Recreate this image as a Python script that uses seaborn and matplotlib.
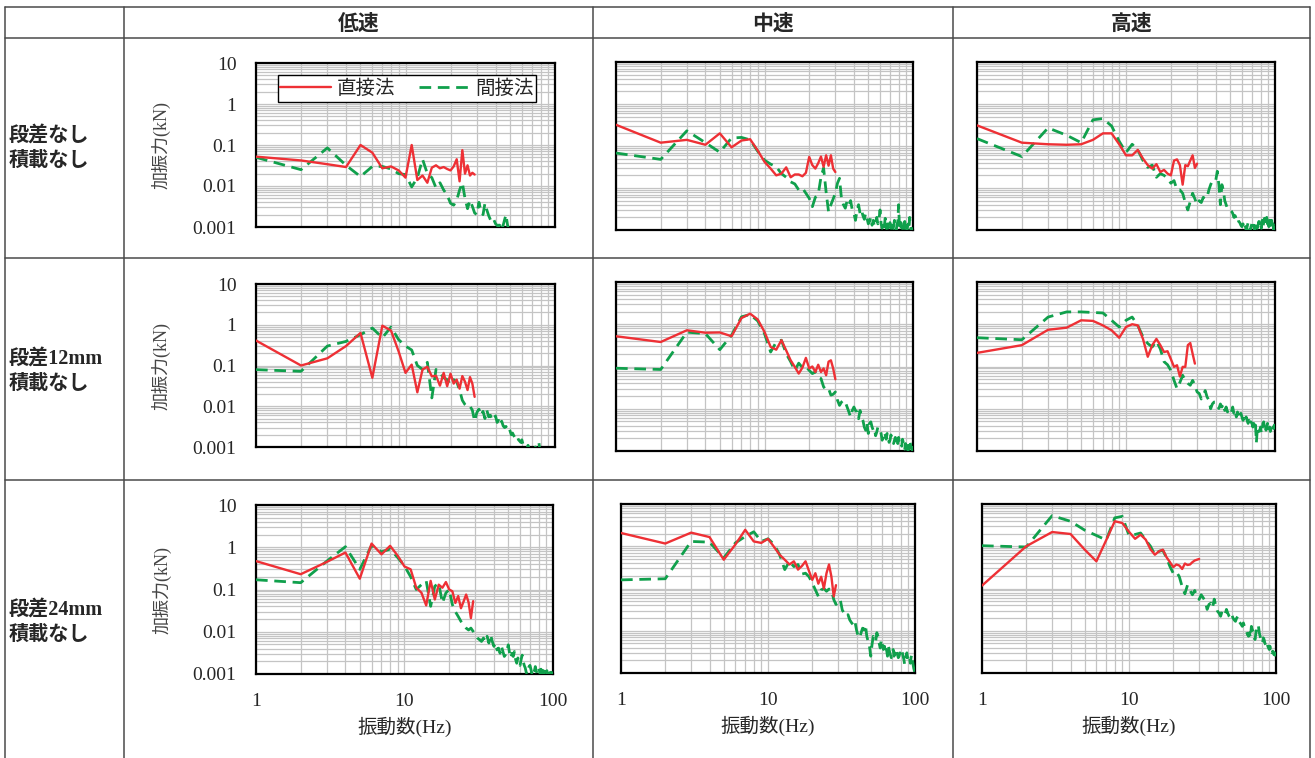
import numpy as np
import pandas as pd
import matplotlib
matplotlib.use("Agg")
import matplotlib.pyplot as plt
from matplotlib.lines import Line2D
from matplotlib.ticker import LogLocator, NullFormatter, FixedLocator, FixedFormatter
import seaborn as sns

# ---------------------------------------------------------------- data
speeds = ["低速", "中速", "高速"]
conditions = ["段差なし\n積載なし", "段差12mm\n積載なし", "段差24mm\n積載なし"]
method_labels = ["直接法", "間接法"]
x_tick_labels = ["1", "10", "100"]
y_tick_labels = ["0.001", "0.01", "0.1", "1", "10"]

# force spectra (kN) sampled every 1 Hz starting at 1 Hz
# --- 段差なし
direct_flat_low = [0.052, 0.042, 0.034, 0.029, 0.10, 0.065, 0.027, 0.030, 0.024, 0.016,
                   0.10, 0.014, 0.018, 0.012, 0.028, 0.032, 0.027, 0.029, 0.026, 0.024,
                   0.030, 0.045, 0.013, 0.075, 0.020, 0.032, 0.018, 0.021, 0.019]
indirect_flat_low = [0.050, 0.025, 0.085, 0.032, 0.017, 0.030, 0.030, 0.026, 0.020, 0.019,
                     0.0095, 0.016, 0.045, 0.020, 0.016, 0.009, 0.012, 0.008, 0.006, 0.0038,
                     0.0034, 0.0045, 0.008, 0.012, 0.005, 0.0028, 0.0045, 0.0032, 0.0022, 0.0020,
                     0.0040, 0.0024, 0.0020, 0.0038, 0.0026, 0.0019, 0.0015, 0.0013, 0.0015, 0.0012,
                     0.0011, 0.0010, 0.0012, 0.0009, 0.0011, 0.0015, 0.0020, 0.0012, 0.0008, 0.0006]

direct_flat_mid = [0.32, 0.12, 0.14, 0.107, 0.20, 0.093, 0.135, 0.145, 0.078, 0.042,
                   0.029, 0.020, 0.022, 0.031, 0.018, 0.021, 0.021, 0.019, 0.023, 0.055,
                   0.035, 0.029, 0.039, 0.056, 0.032, 0.060, 0.034, 0.060, 0.029, 0.024]
indirect_flat_mid = [0.068, 0.048, 0.23, 0.12, 0.071, 0.155, 0.16, 0.14, 0.075, 0.046,
                     0.037, 0.032, 0.022, 0.018, 0.014, 0.0125, 0.009, 0.010, 0.0075, 0.0057,
                     0.0036, 0.0060, 0.0070, 0.018, 0.030, 0.008, 0.0027, 0.0040, 0.0055, 0.0075,
                     0.013, 0.017, 0.0055, 0.0040, 0.0033, 0.0050, 0.0040, 0.0050, 0.0030, 0.0025,
                     0.0017, 0.0030, 0.0040, 0.0025, 0.0030, 0.0022, 0.0018, 0.0025, 0.0019, 0.0014,
                     0.0016, 0.0020, 0.0013, 0.0017, 0.0012, 0.0015, 0.0020, 0.0014, 0.0018, 0.0030,
                     0.0014, 0.0011, 0.0016, 0.0012, 0.0019, 0.0011, 0.0014, 0.0010, 0.0013, 0.0015,
                     0.0011, 0.0014, 0.0010, 0.0012, 0.0017, 0.0012, 0.0010, 0.0013, 0.0016, 0.0040,
                     0.0012, 0.0010, 0.0015, 0.0011, 0.0013, 0.0010, 0.0012, 0.0016, 0.0011, 0.0013,
                     0.0010, 0.0012, 0.0014, 0.0011, 0.0020, 0.0012, 0.0010, 0.0011, 0.0009, 0.0010]

direct_flat_high = [0.31, 0.12, 0.11, 0.107, 0.11, 0.14, 0.20, 0.20, 0.11, 0.06,
                    0.06, 0.081, 0.05, 0.035, 0.029, 0.037, 0.024, 0.027, 0.022, 0.020,
                    0.045, 0.048, 0.035, 0.012, 0.035, 0.033, 0.045, 0.060, 0.030, 0.038]
indirect_flat_high = [0.15, 0.056, 0.27, 0.18, 0.12, 0.42, 0.45, 0.30, 0.13, 0.07,
                      0.11, 0.08, 0.045, 0.031, 0.035, 0.018, 0.022, 0.020, 0.017, 0.013,
                      0.015, 0.009, 0.009, 0.0075, 0.0045, 0.003, 0.0048, 0.0075, 0.0055, 0.004,
                      0.005, 0.0045, 0.006, 0.0055, 0.006, 0.009, 0.012, 0.015, 0.015, 0.015,
                      0.025, 0.012, 0.004, 0.012, 0.009, 0.005, 0.004, 0.0032, 0.003, 0.003,
                      0.0028, 0.0025, 0.002, 0.0022, 0.0018, 0.002, 0.0016, 0.0015, 0.0013, 0.0012,
                      0.0014, 0.0011, 0.0013, 0.0010, 0.0012, 0.0015, 0.0011, 0.0009, 0.0012, 0.0014,
                      0.0011, 0.0013, 0.0010, 0.0012, 0.0015, 0.0011, 0.0013, 0.0016, 0.0012, 0.0014,
                      0.0011, 0.0017, 0.0012, 0.0015, 0.0019, 0.0013, 0.0016, 0.0020, 0.0014, 0.0018,
                      0.0012, 0.0016, 0.0020, 0.0013, 0.0017, 0.0011, 0.0014, 0.0010, 0.0012, 0.0013]

# --- 段差12mm
direct_12_low = [0.41, 0.10, 0.15, 0.30, 0.63, 0.05, 0.95, 0.72, 0.22, 0.066,
                 0.105, 0.022, 0.08, 0.093, 0.054, 0.056, 0.032, 0.066, 0.031, 0.063,
                 0.036, 0.045, 0.027, 0.055, 0.040, 0.025, 0.052, 0.036, 0.017]
indirect_12_low = [0.079, 0.072, 0.30, 0.39, 0.57, 0.83, 0.48, 0.88, 0.43, 0.30,
                   0.24, 0.10, 0.08, 0.12, 0.016, 0.08, 0.066, 0.05, 0.045, 0.034,
                   0.045, 0.040, 0.025, 0.014, 0.011, 0.0095, 0.010, 0.008, 0.0043, 0.007,
                   0.0085, 0.006, 0.0075, 0.005, 0.008, 0.0055, 0.006, 0.0045, 0.005, 0.0058,
                   0.004, 0.0045, 0.0035, 0.0043, 0.0033, 0.003, 0.0032, 0.0027, 0.003, 0.0025,
                   0.002, 0.0022, 0.0019, 0.0017, 0.0016, 0.0018, 0.0015, 0.0014, 0.0013, 0.0015,
                   0.0012, 0.0011, 0.0010, 0.00095, 0.0009, 0.0011, 0.0009, 0.0008, 0.0009, 0.0010,
                   0.0009, 0.0008, 0.0009, 0.0010, 0.0008, 0.0009, 0.0011, 0.0013, 0.0009, 0.0008,
                   0.0007, 0.0006, 0.0007, 0.0006, 0.0005]

direct_12_mid = [0.52, 0.38, 0.72, 0.63, 0.64, 0.52, 1.4, 1.78, 1.3, 0.66,
                 0.29, 0.25, 0.42, 0.24, 0.14, 0.098, 0.068, 0.094, 0.16, 0.09,
                 0.10, 0.074, 0.11, 0.074, 0.09, 0.062, 0.13, 0.14, 0.09, 0.05]
indirect_12_mid = [0.091, 0.085, 0.65, 0.60, 0.25, 0.55, 1.5, 1.7, 1.2, 0.60,
                   0.22, 0.38, 0.42, 0.20, 0.13, 0.08, 0.12, 0.094, 0.10, 0.081,
                   0.068, 0.074, 0.056, 0.052, 0.033, 0.028, 0.030, 0.021, 0.022, 0.025,
                   0.016, 0.012, 0.0144, 0.016, 0.0144, 0.011, 0.0084, 0.0064, 0.0091, 0.011,
                   0.0091, 0.0084, 0.0058, 0.0091, 0.0064, 0.0053, 0.0037, 0.0031, 0.0045, 0.0026,
                   0.0045, 0.0049, 0.0037, 0.0031, 0.0034, 0.0023, 0.0028, 0.0037, 0.0034, 0.0031,
                   0.0026, 0.0018, 0.0021, 0.0028, 0.0024, 0.0019, 0.0026, 0.0021, 0.0016, 0.0018,
                   0.0024, 0.0021, 0.0019, 0.0015, 0.0018, 0.0021, 0.0016, 0.0019, 0.0015, 0.0021,
                   0.0016, 0.0014, 0.0015, 0.0013, 0.0019, 0.0016, 0.0014, 0.0011, 0.0015, 0.0012,
                   0.0011, 0.0015, 0.00105, 0.0014, 0.0018, 0.0015, 0.0012, 0.0011, 0.00105, 0.0015]

direct_12_high = [0.21, 0.32, 0.74, 0.83, 1.24, 1.2, 0.94, 0.72, 0.48, 0.86,
                  1.0, 0.94, 0.45, 0.17, 0.32, 0.45, 0.32, 0.22, 0.23, 0.15,
                  0.098, 0.107, 0.058, 0.098, 0.098, 0.32, 0.36, 0.20, 0.117]
indirect_12_high = [0.48, 0.43, 1.48, 1.96, 1.96, 1.9, 1.85, 1.24, 0.86, 1.24,
                    1.48, 0.94, 0.50, 0.35, 0.29, 0.40, 0.26, 0.13, 0.11, 0.081,
                    0.047, 0.030, 0.042, 0.062, 0.047, 0.040, 0.036, 0.047, 0.036, 0.025,
                    0.023, 0.017, 0.020, 0.027, 0.019, 0.016, 0.010, 0.013, 0.0144, 0.0144,
                    0.012, 0.0101, 0.013, 0.011, 0.013, 0.0091, 0.011, 0.0084, 0.0101, 0.0091,
                    0.0084, 0.011, 0.0078, 0.0091, 0.0064, 0.0084, 0.0070, 0.0059, 0.0078, 0.0064,
                    0.0053, 0.0059, 0.0049, 0.0064, 0.0053, 0.0045, 0.0053, 0.0041, 0.0049, 0.0045,
                    0.0037, 0.0045, 0.0034, 0.0041, 0.0016, 0.0031, 0.0037, 0.0029, 0.0031, 0.0037,
                    0.0026, 0.0031, 0.0045, 0.0049, 0.0034, 0.0041, 0.0031, 0.0037, 0.0045, 0.0034,
                    0.0031, 0.0037, 0.0029, 0.0034, 0.0037, 0.0031, 0.0037, 0.0034, 0.0041, 0.0037]

# --- 段差24mm
direct_24_low = [0.47, 0.23, 0.45, 0.75, 0.18, 1.22, 0.68, 1.08, 0.63, 0.35,
                 0.30, 0.11, 0.084, 0.042, 0.16, 0.058, 0.13, 0.11, 0.15, 0.10,
                 0.091, 0.048, 0.07, 0.036, 0.052, 0.076, 0.05, 0.021, 0.053]
indirect_24_low = [0.17, 0.145, 0.47, 1.03, 0.30, 1.10, 0.78, 0.90, 0.57, 0.36,
                   0.20, 0.10, 0.13, 0.16, 0.04, 0.12, 0.14, 0.048, 0.083, 0.10,
                   0.044, 0.030, 0.023, 0.0176, 0.0146, 0.0122, 0.011, 0.0122, 0.0102, 0.0085,
                   0.0071, 0.0065, 0.0059, 0.0071, 0.0059, 0.0078, 0.0054, 0.0085, 0.0059, 0.0045,
                   0.0054, 0.0037, 0.0041, 0.0031, 0.0045, 0.0034, 0.0026, 0.0029, 0.0037, 0.0049,
                   0.0031, 0.0024, 0.0031, 0.0026, 0.0034, 0.0022, 0.0018, 0.0024, 0.0020, 0.0016,
                   0.0022, 0.0028, 0.0020, 0.0016, 0.0014, 0.0011, 0.0010, 0.0013, 0.0015, 0.0016,
                   0.0013, 0.00105, 0.0012, 0.0014, 0.0012, 0.0015, 0.0012, 0.00105, 0.00125, 0.0014,
                   0.0012, 0.0010, 0.0013, 0.0011, 0.0009, 0.0012, 0.0010, 0.0013, 0.0011, 0.0010,
                   0.0012, 0.0009, 0.0011, 0.0013, 0.0010, 0.0011, 0.0009, 0.0010, 0.0012, 0.0011]

direct_24_mid = [2.06, 1.16, 2.1, 1.65, 0.48, 1.1, 2.45, 1.3, 1.2, 1.5,
                 0.96, 0.63, 0.48, 0.37, 0.44, 0.28, 0.34, 0.44, 0.26, 0.16,
                 0.23, 0.13, 0.19, 0.10, 0.23, 0.37, 0.19, 0.065, 0.12]
indirect_24_mid = [0.16, 0.17, 1.3, 1.25, 0.53, 1.2, 1.7, 2.2, 1.3, 1.5,
                   1.1, 0.63, 0.28, 0.44, 0.33, 0.37, 0.22, 0.23, 0.19, 0.135,
                   0.093, 0.065, 0.093, 0.10, 0.086, 0.097, 0.093, 0.055, 0.042, 0.046,
                   0.055, 0.031, 0.026, 0.022, 0.024, 0.018, 0.0155, 0.0138, 0.0168, 0.0105,
                   0.0075, 0.0068, 0.009, 0.0115, 0.0105, 0.0138, 0.0074, 0.0056, 0.0043, 0.0025,
                   0.0047, 0.0074, 0.0068, 0.0056, 0.009, 0.0074, 0.0051, 0.0039, 0.0062, 0.0047,
                   0.0036, 0.0043, 0.0030, 0.0036, 0.0025, 0.0043, 0.0033, 0.0027, 0.0023, 0.0030,
                   0.0036, 0.0025, 0.0030, 0.0027, 0.0033, 0.0027, 0.0023, 0.0025, 0.0030, 0.0027,
                   0.0033, 0.0030, 0.0025, 0.0021, 0.0016, 0.0019, 0.0025, 0.0030, 0.0023, 0.0025,
                   0.0027, 0.0021, 0.0017, 0.0023, 0.0027, 0.0021, 0.0016, 0.0013, 0.00113, 0.0010]

direct_24_high = [0.117, 1.0, 2.17, 1.95, 0.83, 0.44, 1.4, 3.9, 3.55, 2.2,
                  1.5, 1.88, 1.43, 0.85, 0.63, 0.76, 0.83, 0.55, 0.42, 0.32,
                  0.37, 0.35, 0.29, 0.39, 0.36, 0.37, 0.42, 0.46, 0.48, 0.50]
indirect_24_high = [1.03, 0.96, 5.3, 3.9, 2.4, 1.8, 1.4, 4.7, 5.1, 1.8,
                    1.9, 2.06, 1.4, 1.0, 0.63, 0.76, 0.80, 0.53, 0.33, 0.23,
                    0.25, 0.19, 0.11, 0.075, 0.12, 0.09, 0.071, 0.09, 0.062, 0.055,
                    0.071, 0.06, 0.05, 0.032, 0.042, 0.045, 0.035, 0.056, 0.038, 0.029,
                    0.026, 0.022, 0.029, 0.026, 0.024, 0.032, 0.026, 0.022, 0.020, 0.024,
                    0.020, 0.018, 0.0167, 0.020, 0.022, 0.0167, 0.0153, 0.014, 0.0127, 0.0153,
                    0.0127, 0.0106, 0.0097, 0.0081, 0.0074, 0.0089, 0.0068, 0.0127, 0.0106, 0.0097,
                    0.0074, 0.0062, 0.0089, 0.0115, 0.0106, 0.0127, 0.0089, 0.0074, 0.0062, 0.0056,
                    0.0051, 0.0068, 0.0062, 0.0051, 0.0047, 0.0043, 0.0051, 0.0043, 0.0039, 0.0036,
                    0.0043, 0.0033, 0.0036, 0.0030, 0.0033, 0.0030, 0.0027, 0.0030, 0.0027, 0.0025]

panel_series = [
    [(direct_flat_low, indirect_flat_low), (direct_flat_mid, indirect_flat_mid), (direct_flat_high, indirect_flat_high)],
    [(direct_12_low, indirect_12_low), (direct_12_mid, indirect_12_mid), (direct_12_high, indirect_12_high)],
    [(direct_24_low, indirect_24_low), (direct_24_mid, indirect_24_mid), (direct_24_high, indirect_24_high)],
]

# ---------------------------------------------------------------- style
sns.set_theme(context="paper", style="white")
plt.rcParams["font.family"] = ["Liberation Serif", "Noto Sans CJK JP"]
plt.rcParams["axes.unicode_minus"] = False

RED = "#EE3035"
GREEN = "#10A04C"
GRID = "#C4C4C4"
RULE = "#4A4A4A"

W, H = 1315, 758
fig = plt.figure(figsize=(W / 100, H / 100), dpi=100)
fig.patch.set_facecolor("white")

def px_axes(x0, y0, x1, y1):
    return fig.add_axes([x0 / W, 1 - y1 / H, (x1 - x0) / W, (y1 - y0) / H])

# plot boxes in pixel coordinates (left, top, right, bottom)
boxes = [
    [(256, 63, 555, 227), (616, 62, 913, 230), (977, 62, 1275, 230)],
    [(256, 284, 555, 447), (616, 282, 913, 451), (977, 282, 1275, 451)],
    [(256, 505, 553, 674), (621, 504, 915, 673), (982, 504, 1276, 673)],
]

# ---------------------------------------------------------------- table rules
def hline(y, x0, x1):
    fig.add_artist(Line2D([x0 / W, x1 / W], [1 - y / H, 1 - y / H], color=RULE, lw=1.1))

def vline(x, y0, y1):
    fig.add_artist(Line2D([x / W, x / W], [1 - y0 / H, 1 - y1 / H], color=RULE, lw=1.1))

for yy in (7, 38, 258, 480):
    hline(yy, 5, 1310)
for xx in (5, 124, 593, 953, 1310):
    vline(xx, 7, H)

col_centers = [(124 + 593) / 2, (593 + 953) / 2, (953 + 1310) / 2]
for name, cx in zip(speeds, col_centers):
    fig.text(cx / W, 1 - 23 / H, name, ha="center", va="center", fontsize=15,
             fontweight="bold", family=["Noto Sans CJK JP"])

row_centers = [148, 371, 622]
for name, cy in zip(conditions, row_centers):
    fig.text(9 / W, 1 - cy / H, name, ha="left", va="center", fontsize=14.5,
             fontweight="bold", linespacing=1.35, family=["Liberation Serif", "Noto Sans CJK JP"])

# ---------------------------------------------------------------- panels
dash_pattern = (0, (4.2, 2.4))
for r in range(3):
    for c in range(3):
        ax = px_axes(*boxes[r][c])
        direct, indirect = panel_series[r][c]
        df_d = pd.DataFrame({"Hz": np.arange(1, len(direct) + 1), "kN": direct})
        df_i = pd.DataFrame({"Hz": np.arange(1, len(indirect) + 1), "kN": indirect})
        sns.lineplot(data=df_d, x="Hz", y="kN", ax=ax, color=RED, lw=1.7,
                     errorbar=None, label=method_labels[0], legend=False, zorder=4)
        sns.lineplot(data=df_i, x="Hz", y="kN", ax=ax, color=GREEN, lw=2.0,
                     linestyle=dash_pattern, errorbar=None, label=method_labels[1],
                     legend=False, zorder=3)
        ax.set_xscale("log")
        ax.set_yscale("log")
        ax.set_xlim(1, 100)
        ax.set_ylim(0.001, 10)

        ax.xaxis.set_major_locator(FixedLocator([1, 10, 100]))
        ax.yaxis.set_major_locator(FixedLocator([0.001, 0.01, 0.1, 1, 10]))
        ax.xaxis.set_minor_locator(LogLocator(base=10, subs=np.arange(2, 10), numticks=20))
        ax.yaxis.set_minor_locator(LogLocator(base=10, subs=np.arange(2, 10), numticks=20))
        ax.xaxis.set_minor_formatter(NullFormatter())
        ax.yaxis.set_minor_formatter(NullFormatter())
        ax.grid(which="both", color=GRID, lw=0.9)
        ax.set_axisbelow(True)
        ax.tick_params(which="both", length=0)

        if r == 2:
            ax.xaxis.set_major_formatter(FixedFormatter(x_tick_labels))
            ax.tick_params(axis="x", labelsize=14, pad=14)
            ax.set_xlabel("振動数(Hz)", fontsize=14)
            ax.xaxis.set_label_coords(0.5, -0.255)
        else:
            ax.set_xticklabels([])
            ax.set_xlabel("")
        if c == 0:
            ax.yaxis.set_major_formatter(FixedFormatter(y_tick_labels))
            ax.tick_params(axis="y", labelsize=14, pad=14)
            ax.set_ylabel("加振力(kN)", fontsize=13, color="#444444")
            ax.yaxis.set_label_coords(-0.285, 0.5)
        else:
            ax.set_yticklabels([])
            ax.set_ylabel("")

        for s in ax.spines.values():
            s.set_color("black")
            s.set_linewidth(1.6)

        if r == 0 and c == 0:
            handles = [Line2D([], [], color=RED, lw=1.7),
                       Line2D([], [], color=GREEN, lw=2.0, linestyle=dash_pattern)]
            leg = ax.legend(handles, method_labels, loc="upper center",
                            bbox_to_anchor=(0.505, 0.985), ncol=2, fontsize=14,
                            frameon=True, fancybox=False, framealpha=1,
                            edgecolor="black", borderpad=0.15, handlelength=2.6,
                            handletextpad=0.3, columnspacing=1.2,
                            prop={"family": ["Noto Sans CJK JP"], "size": 14})
            leg.get_frame().set_linewidth(1.0)

fig.savefig("out.png", dpi=100, facecolor="white")
